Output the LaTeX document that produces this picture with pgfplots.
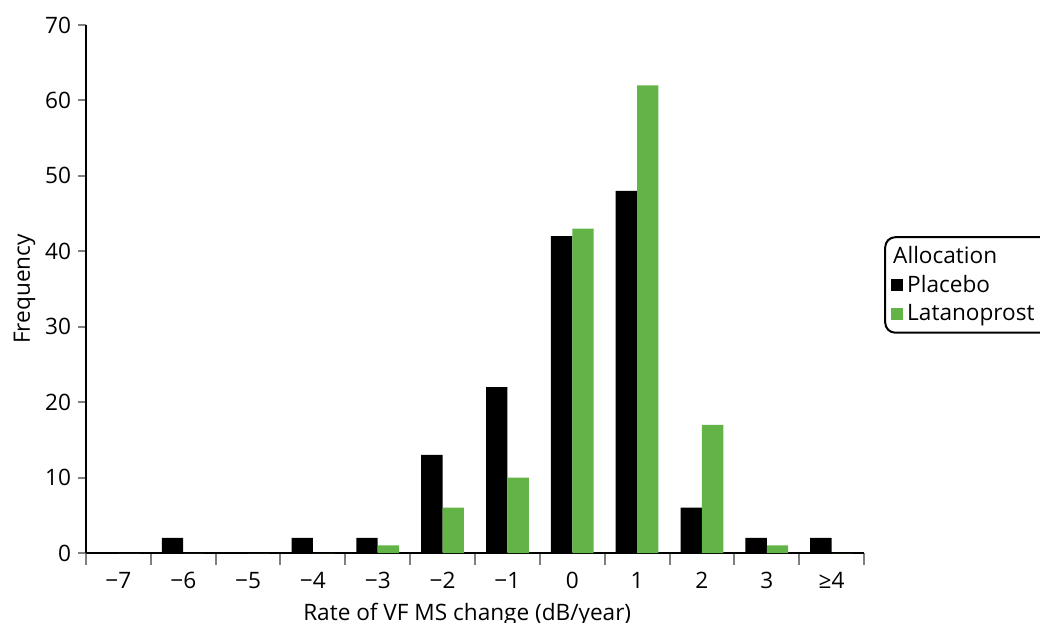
\documentclass[border=0pt]{standalone}
\usepackage{pgfplots}
\pgfplotsset{compat=1.18}
\usepackage{fontspec}
\setmainfont{Open Sans}
\definecolor{latgreen}{HTML}{62B446}
\begin{document}
\begin{tikzpicture}
\useasboundingbox (0,0) rectangle (520pt,311pt);
\begin{axis}[
  at={(43pt,34.5pt)}, anchor=south west,
  scale only axis, width=389pt, height=264pt,
  font=\fontsize{11.3pt}{13pt}\selectfont,
  /pgf/number format/assume math mode=true,
  axis lines=left, axis line style={-, line width=1pt},
  ybar=0pt, bar width=0.33,
  xmin=-0.5, xmax=11.5, ymin=0, ymax=70,
  xtick={0,...,11},
  xticklabels={−7,−6,−5,−4,−3,−2,−1,0,1,2,3,≥4},
  major x tick style={draw=none},
  minor xtick={-0.5,0.5,...,11.5},
  minor x tick style={line width=1pt},
  minor tick length=6pt,
  ytick={0,10,...,70},
  major tick length=4pt,
  tick align=outside,
  y tick style={line width=1pt},
  xticklabel style={yshift=-2pt},
  xlabel={Rate of VF MS change (dB/year)},
  ylabel={Frequency},
  xlabel style={at={(axis description cs:0.49,-0.116)}, anchor=center},
  ylabel style={at={(axis description cs:-0.079,0.5)}, anchor=center},
  legend cell align=left,
  legend image code/.code={\fill[#1, sharp corners] (0pt,-3pt) rectangle (6pt,3pt);},
  legend style={at={(1.026,0.6)}, anchor=north west, draw=black, line width=1pt,
    rounded corners=5pt, row sep=0.5pt, inner xsep=3pt, inner ysep=2.5pt,
    font=\fontsize{11.3pt}{13pt}\selectfont},
]
\addlegendimage{empty legend}
\addlegendentry{\hspace{-7pt}Allocation}
\addplot[fill=black, draw=none] coordinates {
(0,0) (1,2) (2,0) (3,2) (4,2) (5,13) (6,22) (7,42) (8,48) (9,6) (10,2) (11,2)};
\addlegendentry{Placebo}
\addplot[fill=latgreen, draw=none] coordinates {
(0,0) (1,0) (2,0) (3,0) (4,1) (5,6) (6,10) (7,43) (8,62) (9,17) (10,1) (11,0)};
\addlegendentry{Latanoprost\rule{6pt}{0pt}}
\end{axis}
\end{tikzpicture}
\end{document}
